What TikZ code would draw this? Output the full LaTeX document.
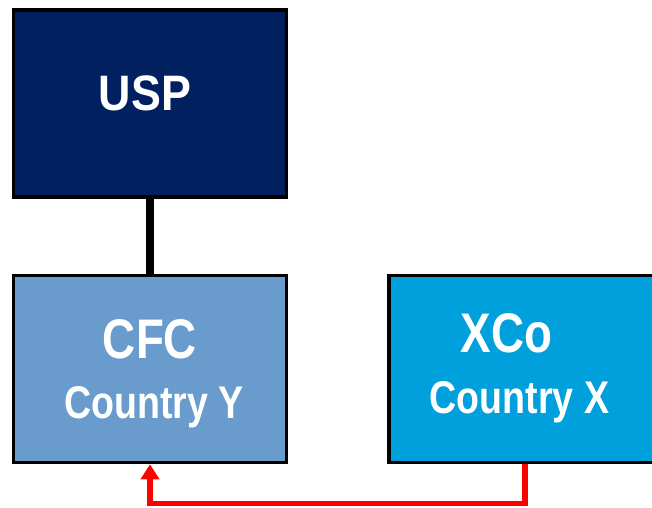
\documentclass[tikz,border=0pt]{standalone}
\usepackage{fontspec}
\setmainfont{Liberation Sans}
\newfontfamily\narrowsans[FakeStretch=0.82]{Liberation Sans}
\newfontfamily\uspsans[FakeStretch=0.9]{Liberation Sans}
\usetikzlibrary{arrows.meta}
\definecolor{navy}{RGB}{0,32,96}
\definecolor{cfcblue}{RGB}{105,155,204}
\definecolor{xcoblue}{RGB}{0,160,220}
\definecolor{flowred}{RGB}{255,0,0}
\tikzset{
  entity/.style={draw=black, line width=3.5bp, rectangle, inner sep=0pt, minimum height=187bp},
  label/.style={text=white, inner sep=0pt, anchor=base},
  bigtxt/.style={label, font=\narrowsans\bfseries\fontsize{56}{56}\selectfont},
  subtxt/.style={label, font=\narrowsans\bfseries\fontsize{46}{46}\selectfont}
}
\begin{document}
\begin{tikzpicture}[x=1bp, y=-1bp]
\useasboundingbox (0,0) rectangle (652,508);
% entities
\node[entity, fill=navy, minimum width=273bp] (usp) at (150,103.5) {};
\node[entity, fill=cfcblue, minimum width=273bp] (cfc) at (150,369) {};
\node[entity, fill=xcoblue, minimum width=268bp] (xco) at (523,369) {};
% texts
\node[label, font=\uspsans\bfseries\fontsize{50}{50}\selectfont] (usptxt) at (145,111) {USP};
\node[bigtxt] (cfctxt) at (150,358) {CFC};
\node[subtxt] (cfcsub) at (154,418) {Country Y};
\node[bigtxt] (xcotxt) at (506.5,352) {XCo};
\node[subtxt] (xcosub) at (519.5,413) {Country X};
% ownership link
\draw[line width=8bp] (usp.south) -- (cfc.north);
% flow from XCo back to CFC
\coordinate (bend) at (525,503.5);
\draw[flowred, line width=5.5bp, -{Triangle[width=18bp,length=15bp]}]
  (xco.south -| bend) -- (bend) -| (cfc.south);
\end{tikzpicture}
\end{document}
